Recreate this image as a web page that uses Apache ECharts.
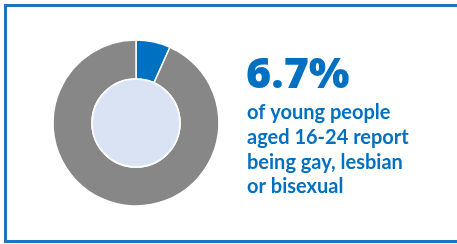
<!DOCTYPE html>
<html>
<head>
<meta charset="utf-8">
<script src="https://cdn.jsdelivr.net/npm/echarts@6/dist/echarts.min.js"></script>
<style>
  html, body { margin: 0; padding: 0; background: #fff; }
  #chart { width: 457px; height: 244px; }
</style>
</head>
<body>
<div id="chart"></div>
<script>
const categories = ['Gay, lesbian or bisexual', 'Other'];
const shares = [6.7, 93.3];
const headline = '6.7%';
const caption = ['of young people', 'aged 16-24 report', 'being gay, lesbian', 'or bisexual'];

const chart = echarts.init(document.getElementById('chart'));

// caption lines, one text element per line
const captionTexts = caption.map((line, i) => ({
  type: 'text',
  style: {
    x: 247,
    y: 103 + i * 24.6,
    text: line,
    font: 'bold 20px Lato',
    verticalAlign: 'top',
    fill: '#0070c0'
  }
}));

const option = {
  animation: false,
  color: ['#0070c0', '#878787'],
  series: [
    {
      type: 'pie',
      center: [136, 123],
      radius: [44, 83],
      startAngle: 90,
      clockwise: true,
      silent: true,
      label: { show: false },
      labelLine: { show: false },
      itemStyle: { borderColor: '#fff', borderWidth: 1.5 },
      data: categories.map((name, i) => ({ name, value: shares[i] }))
    },
    {
      type: 'pie',
      center: [136, 123],
      radius: [0, 44],
      silent: true,
      label: { show: false },
      itemStyle: { color: '#dae3f3', borderColor: '#fff', borderWidth: 1.5 },
      data: [{ name: 'inner', value: 1 }]
    }
  ],
  graphic: [
    {
      type: 'rect',
      shape: { x: 5.5, y: 5.5, width: 470, height: 236 },
      style: { fill: null, stroke: '#1f74c0', lineWidth: 3 }
    },
    {
      type: 'text',
      style: {
        x: 246,
        y: 54,
        text: headline,
        font: '800 43px "Open Sans"',
        verticalAlign: 'top',
        fill: '#0070c0'
      }
    }
  ].concat(captionTexts)
};

chart.setOption(option);
window.addEventListener('resize', () => chart.resize());
</script>
</body>
</html>
